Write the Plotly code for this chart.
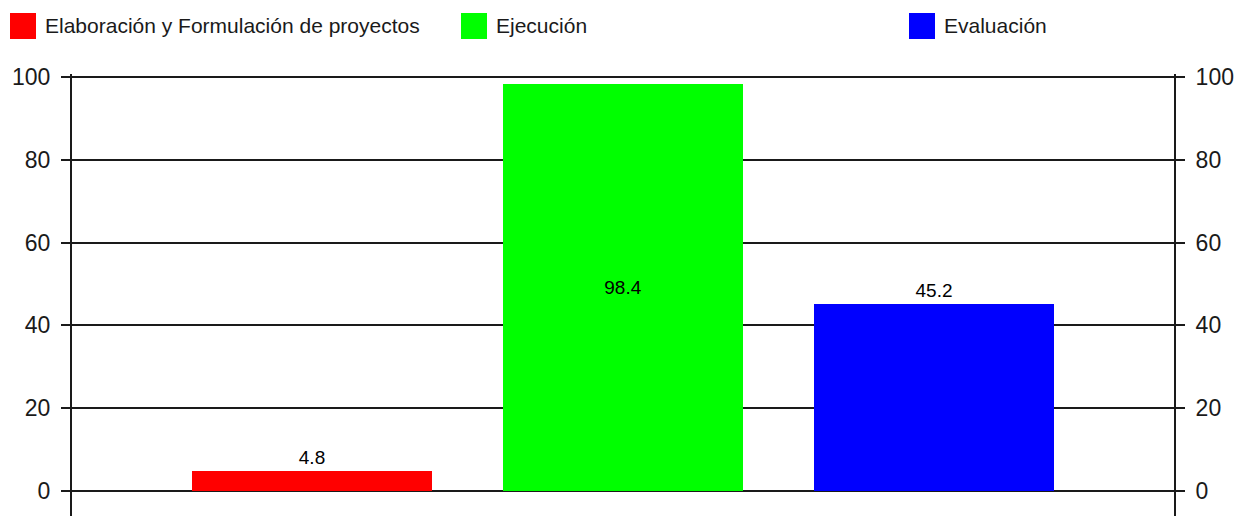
import plotly.graph_objects as go

# ---- data ----
categories = ["Elaboración y Formulación de proyectos", "Ejecución", "Evaluación"]
values = [4.8, 98.4, 45.2]
colors = ["#FF0000", "#00FF00", "#0000FF"]
label_positions = ["outside", "inside", "outside"]
y_tickvals = [0, 20, 40, 60, 80, 100]

# ---- layout constants (pixels) ----
W, H = 1236, 516
ML, MR, MT, MB = 72, 62, 74, 0
PW, PH = W - ML - MR, H - MT - MB
FONT = "Liberation Sans, Arial, sans-serif"
INK = "#1a1a1a"

# value scale: 0 at y=491 px, 100 at y=77 px of the window
PX_PER_UNIT = (491 - 77) / 100
Y_TOP = 100 + (77 - MT) / PX_PER_UNIT
Y_BOTTOM = -(H - 491) / PX_PER_UNIT


def px_x(px):
    return (px - ML) / PW


def px_y(py):
    return 1 - (py - MT) / PH


fig = go.Figure()
fig.add_trace(go.Bar(
    x=categories,
    y=values,
    marker=dict(color=colors, line=dict(width=0)),
    width=0.772,
    text=[f"{v:.1f}" for v in values],
    textposition=label_positions,
    insidetextanchor="middle",
    textfont=dict(family=FONT, size=19, color="black"),
    outsidetextfont=dict(family=FONT, size=19, color="black"),
    insidetextfont=dict(family=FONT, size=19, color="black"),
    cliponaxis=False,
    showlegend=False,
    hoverinfo="x+y",
))
# same series on the right-hand axis (transparent) so that axis is drawn
fig.add_trace(go.Bar(
    x=categories,
    y=values,
    yaxis="y2",
    width=0.772,
    marker=dict(color=colors, opacity=0),
    showlegend=False,
    hoverinfo="skip",
))

axis_common = dict(
    range=[Y_BOTTOM, Y_TOP],
    tickvals=y_tickvals,
    ticks="outside",
    ticklen=9,
    tickwidth=2,
    tickcolor=INK,
    tickfont=dict(family=FONT, size=23, color=INK),
    showline=True,
    linecolor=INK,
    linewidth=2,
    zeroline=False,
    ticklabelstandoff=6,
    fixedrange=True,
)

fig.update_layout(
    width=W,
    height=H,
    margin=dict(l=ML, r=MR, t=MT, b=MB, pad=0),
    paper_bgcolor="white",
    plot_bgcolor="white",
    font=dict(family=FONT, color=INK),
    showlegend=False,
    barmode="overlay",
    bargap=0,
    xaxis=dict(
        type="category",
        range=[-0.771, 2.770],
        showticklabels=False,
        ticks="",
        showgrid=False,
        zeroline=False,
        showline=False,
        fixedrange=True,
    ),
    yaxis=dict(
        **axis_common,
        side="left",
        showgrid=True,
        gridcolor=INK,
        gridwidth=2,
    ),
    yaxis2=dict(
        **axis_common,
        side="right",
        overlaying="y",
        showgrid=False,
    ),
)

# ---- manual legend (large squares like the reference) ----
legend_left_px = [10, 461, 909]
sq = 26
sq_top = 13
for name, col, lx in zip(categories, colors, legend_left_px):
    fig.add_shape(
        type="rect", xref="paper", yref="paper",
        x0=px_x(lx), x1=px_x(lx + sq),
        y0=px_y(sq_top + sq), y1=px_y(sq_top),
        fillcolor=col, line=dict(width=0),
    )
    fig.add_annotation(
        xref="paper", yref="paper",
        x=px_x(lx + sq + 7), y=px_y(sq_top + sq / 2),
        xanchor="left", yanchor="middle",
        text=name, showarrow=False,
        font=dict(family=FONT, size=21, color=INK),
    )

fig.write_html(
    "out.html",
    config={"displayModeBar": False},
    post_script="document.body.style.margin='0';document.body.style.overflow='hidden';",
)
